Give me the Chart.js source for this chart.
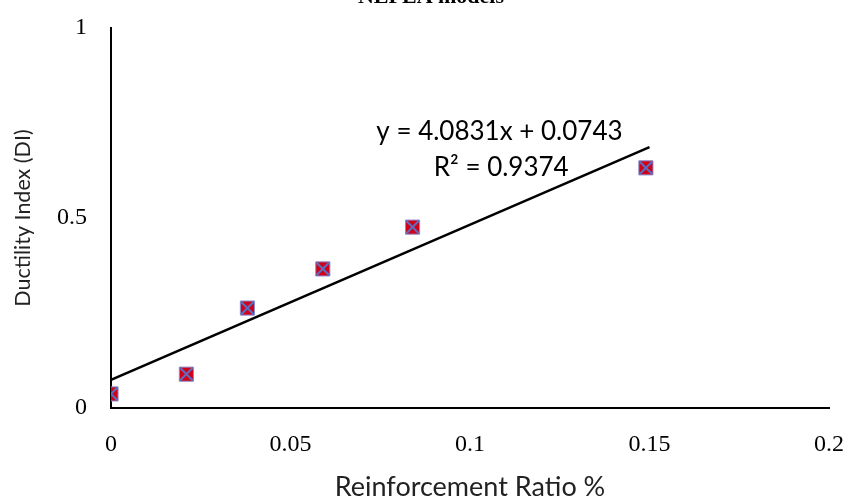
<!DOCTYPE html>
<html>
<head>
<meta charset="utf-8">
<script src="https://cdn.jsdelivr.net/npm/chart.js@4/dist/chart.umd.min.js"></script>
<style>
  html, body { margin: 0; padding: 0; background: #fff; }
  #wrap { width: 853px; height: 502px; }
</style>
</head>
<body>
<div id="wrap"><canvas id="graphic"></canvas></div>
<script>
const chartTitle = "NLFEA models"
const ratios = [0, 0.021, 0.038, 0.059, 0.084, 0.149]
const ductility = [0.037, 0.089, 0.263, 0.366, 0.476, 0.632]
const xTicks = [0, 0.05, 0.1, 0.15, 0.2]
const yTicks = [0, 0.5, 1]
const slope = 4.0831
const intercept = 0.0743
const trendX = [0, 0.15]
const eqText = "y = 4.0831x + 0.0743"
const r2Text = "R² = 0.9374"

const ctx = document.querySelector('#graphic').getContext('2d')

const points = ratios.map((x, i) => ({ x: x, y: ductility[i] }))
const trend = trendX.map((x) => ({ x: x, y: slope * x + intercept }))

// title is clipped at top in the reference, equation label sits near the line
const textPlugin = {
  id: 'texts',
  afterDraw(chart) {
    const c = chart.ctx
    const xs = chart.scales.x
    const ys = chart.scales.y
    c.save()
    c.fillStyle = '#000'
    c.textAlign = 'center'
    c.font = 'bold 22px "Liberation Serif"'
    c.textBaseline = 'alphabetic'
    c.fillText(chartTitle, 431, 3)
    c.textBaseline = 'middle'
    c.font = '26px Lato'
    c.fillText(eqText, xs.getPixelForValue(0.1082), ys.getPixelForValue(0.727))
    c.fillText(r2Text, xs.getPixelForValue(0.1087), ys.getPixelForValue(0.632))
    c.restore()
  }
}

function noPad(axis) {
  axis.paddingLeft = 0
  axis.paddingRight = 0
  axis.paddingTop = 0
  axis.paddingBottom = 0
}

new Chart(ctx, {
  type: 'scatter',
  data: {
    datasets: [
      {
        type: 'line',
        data: trend,
        borderColor: '#000',
        borderWidth: 2.5,
        pointRadius: 0,
        fill: false,
        order: 3
      },
      {
        data: points,
        pointStyle: 'rect',
        pointRadius: 10,
        backgroundColor: '#d0021b',
        borderColor: '#8a8fd0',
        borderWidth: 1,
        order: 2
      },
      {
        data: points,
        pointStyle: 'crossRot',
        pointRadius: 9,
        borderColor: '#5b6fc0',
        borderWidth: 2,
        order: 1
      }
    ]
  },
  options: {
    responsive: true,
    maintainAspectRatio: false,
    animation: false,
    layout: { padding: { top: 28, right: 24, left: 0, bottom: 0 } },
    plugins: {
      legend: { display: false },
      tooltip: { enabled: false }
    },
    scales: {
      x: {
        type: 'linear',
        min: 0,
        max: 0.2,
        afterBuildTicks: (axis) => { axis.ticks = xTicks.map((v) => ({ value: v })) },
        afterFit: (axis) => { axis.height = 94; noPad(axis) },
        grid: { display: false, drawTicks: false },
        border: { color: '#000', width: 2 },
        ticks: {
          color: '#000',
          padding: 22,
          font: { family: '"Liberation Serif"', size: 24 },
          callback: (v) => String(v)
        },
        title: {
          display: true,
          text: 'Reinforcement Ratio %',
          color: '#222',
          font: { family: 'Lato', size: 27 },
          padding: { top: 16, bottom: -1 }
        }
      },
      y: {
        min: 0,
        max: 1,
        afterBuildTicks: (axis) => { axis.ticks = yTicks.map((v) => ({ value: v })) },
        afterFit: (axis) => { axis.width = 111; noPad(axis) },
        grid: { display: false, drawTicks: false },
        border: { color: '#000', width: 2 },
        ticks: {
          color: '#000',
          padding: 24,
          font: { family: '"Liberation Serif"', size: 24 },
          callback: (v) => String(v)
        },
        title: {
          display: true,
          text: 'Ductility Index (DI)',
          color: '#222',
          font: { family: 'Lato', size: 21.5 },
          padding: { top: 10 }
        }
      }
    }
  },
  plugins: [textPlugin]
})
</script>
</body>
</html>
